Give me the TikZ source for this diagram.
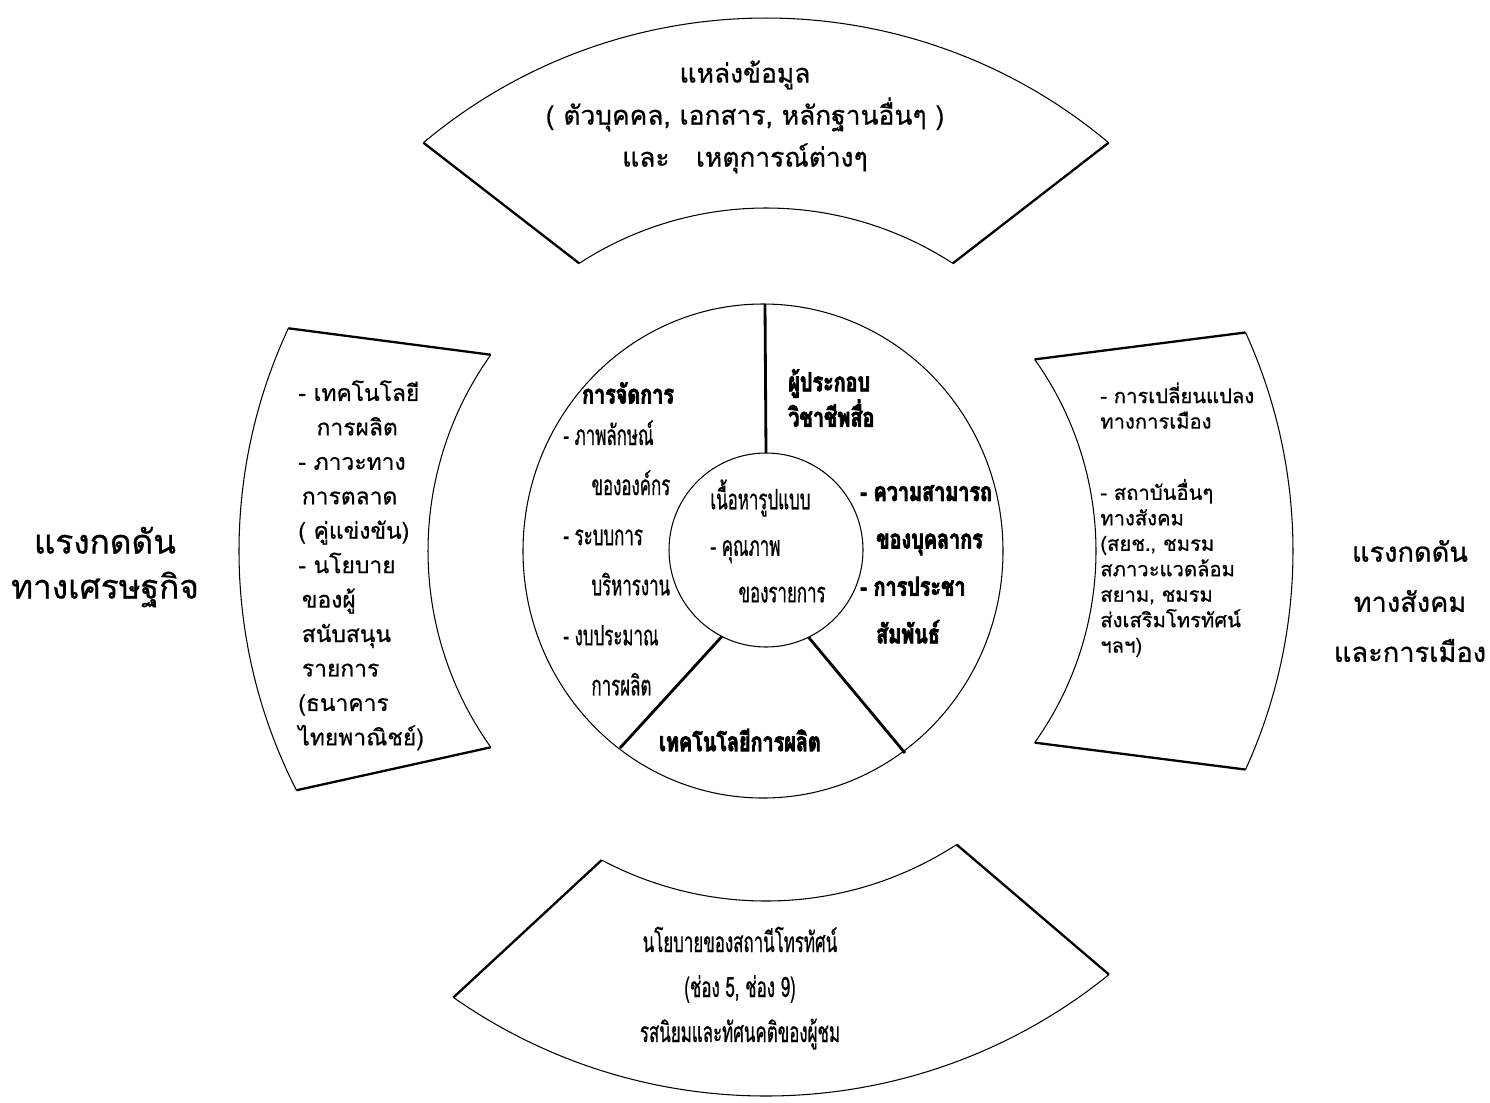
\documentclass[tikz,border=0pt]{standalone}
\usepackage{fontspec}
\setmainfont{Loma}[Script=Thai,FakeBold=0.7]
\newfontfamily\condthai{Loma}[Script=Thai,FakeStretch=0.6,FakeBold=0.6]
\newfontfamily\heavythai{Loma}[Script=Thai,FakeStretch=0.75,FakeBold=3]
\usetikzlibrary{calc}
\tikzset{
  rim/.style={line width=0.6pt},
  wall/.style={line width=1.3pt},
  spoke/.style={line width=1.6pt},
  pressure/.style={font=\fontsize{19}{25.6}\selectfont,align=center,inner sep=0pt},
  bandtext/.style={font=\fontsize{15}{23.9}\selectfont,align=center,inner sep=0pt},
  sidelist/.style={align=left,anchor=north west,inner sep=0pt},
  head/.style={font=\heavythai\bfseries\fontsize{15}{17}\selectfont,inner sep=0pt},
  ringlist/.style={font=\condthai\fontsize{16}{28.5}\selectfont,align=left,
                   anchor=north west,inner sep=0pt},
}
\begin{document}
\begin{tikzpicture}[x=0.2mm,y=-0.2mm]
\useasboundingbox (0,0) rectangle (1490,1102);
\coordinate (c) at (766,551);

\coordinate (t-o1) at ($(c)+(-130:533)$);
\coordinate (t-o2) at ($(c)+(-50:533)$);
\coordinate (t-i1) at ($(c)+(-123:343)$);
\coordinate (t-i2) at ($(c)+(-57:343)$);
\draw[rim] (t-o1) arc[start angle=-130,end angle=-50,radius=533];
\draw[rim] (t-i1) arc[start angle=-123,end angle=-57,radius=343];
\draw[wall] (t-o1) -- (t-i1);
\draw[wall] (t-o2) -- (t-i2);

\coordinate (b-o1) at ($(c)+(125:545)$);
\coordinate (b-o2) at ($(c)+(51:545)$);
\coordinate (b-i1) at ($(c)+(118:350)$);
\coordinate (b-i2) at ($(c)+(57:350)$);
\draw[rim] (b-o2) arc[start angle=51,end angle=125,radius=545];
\draw[rim] (b-i2) arc[start angle=57,end angle=118,radius=350];
\draw[wall] (b-o1) -- (b-i1);
\draw[wall] (b-o2) -- (b-i2);

\coordinate (l-o1) at ($(c)+(153:527)$);
\coordinate (l-o2) at ($(c)+(205:527)$);
\coordinate (l-i1) at ($(c)+(144.5:338)$);
\coordinate (l-i2) at ($(c)+(215.5:338)$);
\draw[rim] (l-o1) arc[start angle=153,end angle=205,radius=527];
\draw[rim] (l-i1) arc[start angle=144.5,end angle=215.5,radius=338];
\draw[wall] (l-o1) -- (l-i1);
\draw[wall] (l-o2) -- (l-i2);

\coordinate (r-o1) at ($(c)+(-24.5:527)$);
\coordinate (r-o2) at ($(c)+(24.5:527)$);
\coordinate (r-i1) at ($(c)+(-35.5:330)$);
\coordinate (r-i2) at ($(c)+(35.5:330)$);
\draw[rim] (r-o1) arc[start angle=-24.5,end angle=24.5,radius=527];
\draw[rim] (r-i1) arc[start angle=-35.5,end angle=35.5,radius=330];
\draw[wall] (r-o1) -- (r-i1);
\draw[wall] (r-o2) -- (r-i2);

\coordinate (hub) at (766,550);
\draw[rim] (763,551) ellipse[x radius=240,y radius=247];
\draw[rim] (hub) circle[radius=97];
\coordinate (s-top) at (765,304);
\coordinate (s-left) at (620,748);
\coordinate (s-right) at (905,753);
\draw[spoke] ($(hub)+(-90:97)$) -- (s-top);
\draw[spoke] ($(hub)+(117:97)$) -- (s-left);
\draw[spoke] ($(hub)+(64:97)$) -- (s-right);

\node[pressure] (econ) at (105,567) {แรงกดดัน\\ทางเศรษฐกิจ};
\node[pressure,font=\fontsize{15.5}{28.5}\selectfont] (social) at (1410,601)
  {แรงกดดัน\\ทางสังคม\\และการเมือง};

\node[bandtext] (source) at (745,117)
  {แหล่งข้อมูล\\( ตัวบุคคล, เอกสาร, หลักฐานอื่นๆ )\\และ\quad เหตุการณ์ต่างๆ};
\node[bandtext,font=\condthai\fontsize{16}{25.6}\selectfont] (policy) at (740,988)
  {นโยบายของสถานีโทรทัศน์\\(ช่อง 5, ช่อง 9)\\รสนิยมและทัศนคติของผู้ชม};

\node[sidelist,font=\fontsize{13}{19.6}\selectfont] (econlist) at (298,380)
  {- เทคโนโลยี\\\hspace{0.8em}การผลิต\\- ภาวะทาง\\\hspace{2pt}การตลาด\\( คู่แข่งขัน)\\
   - นโยบาย\\\hspace{2pt}ของผู้\\\hspace{2pt}สนับสนุน\\\hspace{2pt}รายการ\\(ธนาคาร\\ไทยพาณิชย์)};
\node[sidelist,font=\fontsize{11.5}{14.5}\selectfont] (sociallist) at (1100,382)
  {- การเปลี่ยนแปลง\\ทางการเมือง\\[26pt]- สถาบันอื่นๆ\\ทางสังคม\\(สยช., ชมรม\\
   สภาวะแวดล้อม\\สยาม, ชมรม\\ส่งเสริมโทรทัศน์\\ฯลฯ)};

\node[head] (manage) at (628,393) {การจัดการ};
\node[ringlist] (managelist) at (563,420)
  {- ภาพลักษณ์\\\hspace{1em}ขององค์กร\\- ระบบการ\\\hspace{1em}บริหารงาน\\- งบประมาณ\\\hspace{1em}การผลิต};

\node[font=\condthai\fontsize{16}{26.5}\selectfont,align=left,inner sep=0pt]
  (content) at (768,541) {เนื้อหารูปแบบ\\- คุณภาพ\\\hspace{1em}ของรายการ};

\node[head,align=left,anchor=west] (staff) at (788,398) {ผู้ประกอบ\\วิชาชีพสื่อ};
\node[ringlist,font=\heavythai\bfseries\fontsize{15}{27}\selectfont] (stafflist) at (860,485)
  {- ความสามารถ\\\hspace{0.6em}ของบุคลากร\\- การประชา\\\hspace{0.6em}สัมพันธ์};

\node[head] (tech) at (740,740) {เทคโนโลยีการผลิต};
\end{tikzpicture}
\end{document}
